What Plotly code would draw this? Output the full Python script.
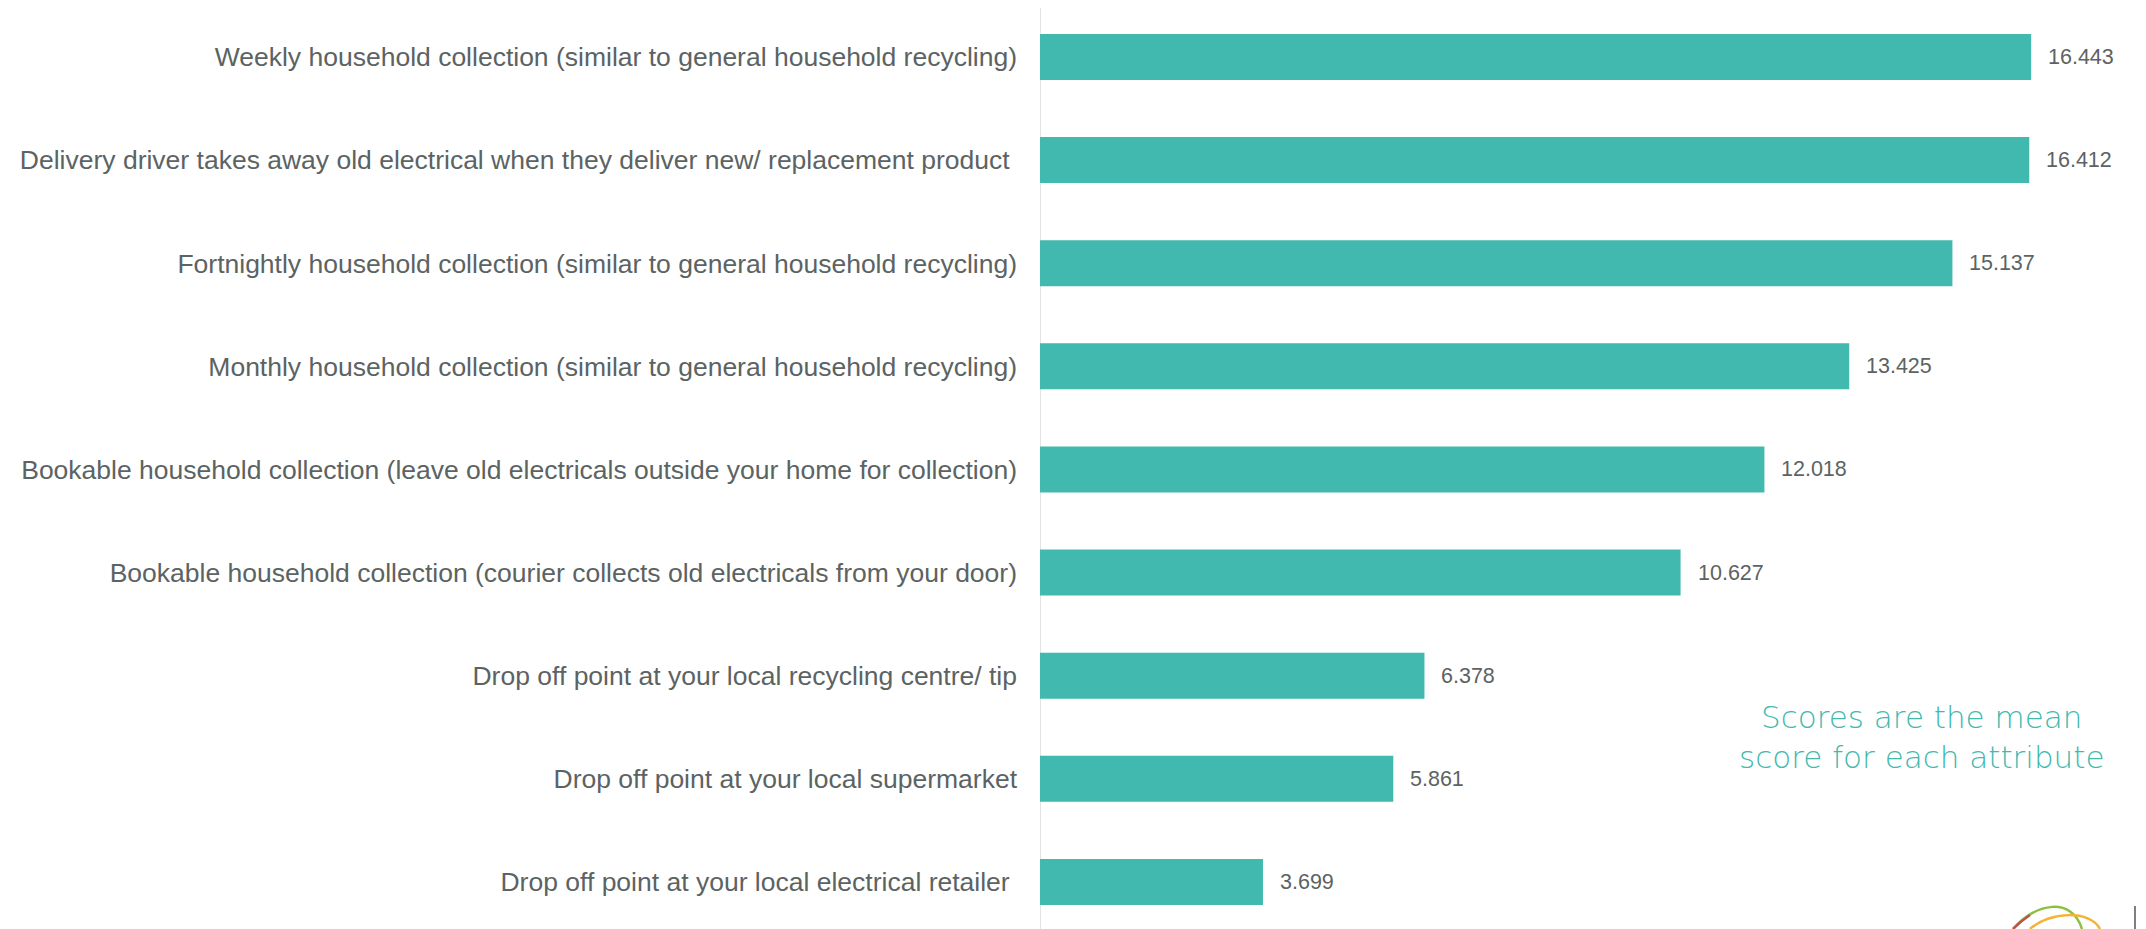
import plotly.graph_objects as go

# ---- data ----
categories = [
    "Weekly household collection (similar to general household recycling)",
    "Delivery driver takes away old electrical when they deliver new/ replacement product\u00a0",
    "Fortnightly household collection (similar to general household recycling)",
    "Monthly household collection (similar to general household recycling)",
    "Bookable household collection (leave old electricals outside your home for collection)",
    "Bookable household collection (courier collects old electricals from your door)",
    "Drop off point at your local recycling centre/ tip",
    "Drop off point at your local supermarket",
    "Drop off point at your local electrical retailer\u00a0",
]
scores = [16.443, 16.412, 15.137, 13.425, 12.018, 10.627, 6.378, 5.861, 3.699]
value_labels = ["16.443", "16.412", "15.137", "13.425", "12.018", "10.627", "6.378", "5.861", "3.699"]
note_text = "Scores are the mean<br>score for each attribute"

# ---- layout constants (page has an 8px body margin) ----
OFF = 8
W, H = 2146 - OFF, 929 - OFF
ML, MR, MT, MB = 1032, 21, 0, 0
BAR = "#41b9ae"
LABEL = "#5b6363"

def px(x):
    return (x - OFF - ML) / (W - ML - MR)

def py(y):
    return 1 - (y - OFF - MT) / (H - MT - MB)

fig = go.Figure()
fig.add_trace(go.Bar(
    x=scores, y=categories, orientation="h",
    marker=dict(color=BAR, line=dict(width=0)),
    width=0.446, hoverinfo="x+y",
))

annotations = []
for c, v, t in zip(categories, scores, value_labels):
    annotations.append(dict(
        x=v, y=c, xref="x", yref="y", text=t, showarrow=False,
        xanchor="left", yanchor="middle", xshift=15,
        font=dict(family="Liberation Sans, Arial, sans-serif", size=21.5, color=LABEL),
    ))
annotations.append(dict(
    x=px(1921), y=py(737), xref="paper", yref="paper", text=note_text,
    showarrow=False, xanchor="center", yanchor="middle", align="center",
    font=dict(family="DejaVu Sans, sans-serif", size=31, color="#41b9ae", weight=200),
))

shapes = [
    dict(type="line", xref="x", yref="paper", x0=0, x1=0, y0=py(6), y1=0,
         line=dict(color="#e3e3e3", width=2), layer="below"),
    # small logo fragment bottom right
    dict(type="path", xref="paper", yref="paper",
         path=f"M {px(2013)} {py(929)} C {px(2035)} {py(903)}, {px(2072)} {py(896)}, {px(2082)} {py(929)}",
         line=dict(color="#8cc043", width=2.5)),
    dict(type="path", xref="paper", yref="paper",
         path=f"M {px(2013)} {py(929)} C {px(2018)} {py(924)}, {px(2024)} {py(919)}, {px(2030)} {py(915)}",
         line=dict(color="#c0504d", width=2.5)),
    dict(type="path", xref="paper", yref="paper",
         path=f"M {px(2030)} {py(929)} C {px(2050)} {py(911)}, {px(2090)} {py(910)}, {px(2100)} {py(929)}",
         line=dict(color="#f5b335", width=2.5)),
    dict(type="line", xref="paper", yref="paper", x0=px(2135), x1=px(2135), y0=py(906), y1=py(929),
         line=dict(color="#7f7f7f", width=2)),
]

fig.update_layout(
    width=W, height=H,
    margin=dict(l=ML, r=MR, t=MT, b=MB, pad=0),
    paper_bgcolor="white", plot_bgcolor="white",
    showlegend=False,
    annotations=annotations,
    shapes=shapes,
    xaxis=dict(visible=False, range=[0, 18], fixedrange=True),
    yaxis=dict(
        categoryorder="array", categoryarray=categories,
        range=[8.456, -0.475], showgrid=False, zeroline=False, showline=False,
        ticks="", ticklabelstandoff=22,
        tickfont=dict(family="Liberation Sans, Arial, sans-serif", size=26.5, color=LABEL),
    ),
)

fig.write_html("out.html")
